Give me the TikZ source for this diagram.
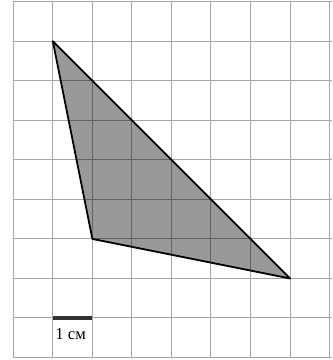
\documentclass[tikz,border=0pt]{standalone}
\usepackage{fontspec}
\setmainfont{Liberation Serif}
\begin{document}
\begin{tikzpicture}[x=1cm,y=1cm,
  gridline/.style={black,opacity=0.35,line width=0.7pt},
  tri/.style={draw=black,line width=1.3pt,line join=round},
  scalebar/.style={black!80,line width=2.2pt},
  lbl/.style={inner sep=0pt,anchor=west,font=\fontsize{12}{13}\selectfont}]
\useasboundingbox (-0.336,-0.063) rectangle (8.074,9.043);
\coordinate (A) at (1,8);
\coordinate (B) at (2,3);
\coordinate (C) at (7,2);
\fill[black!40] (A) -- (B) -- (C) -- cycle;
\draw[gridline] (0,0) grid (8.05,9);
\draw[tri] (A) -- (B) -- (C) -- cycle;
\coordinate (S1) at (1,1);
\coordinate (S2) at (2,1);
\draw[scalebar] (S1) -- (S2);
\node[lbl] (L) at (1.06,0.6) {1 см};
\end{tikzpicture}
\end{document}
